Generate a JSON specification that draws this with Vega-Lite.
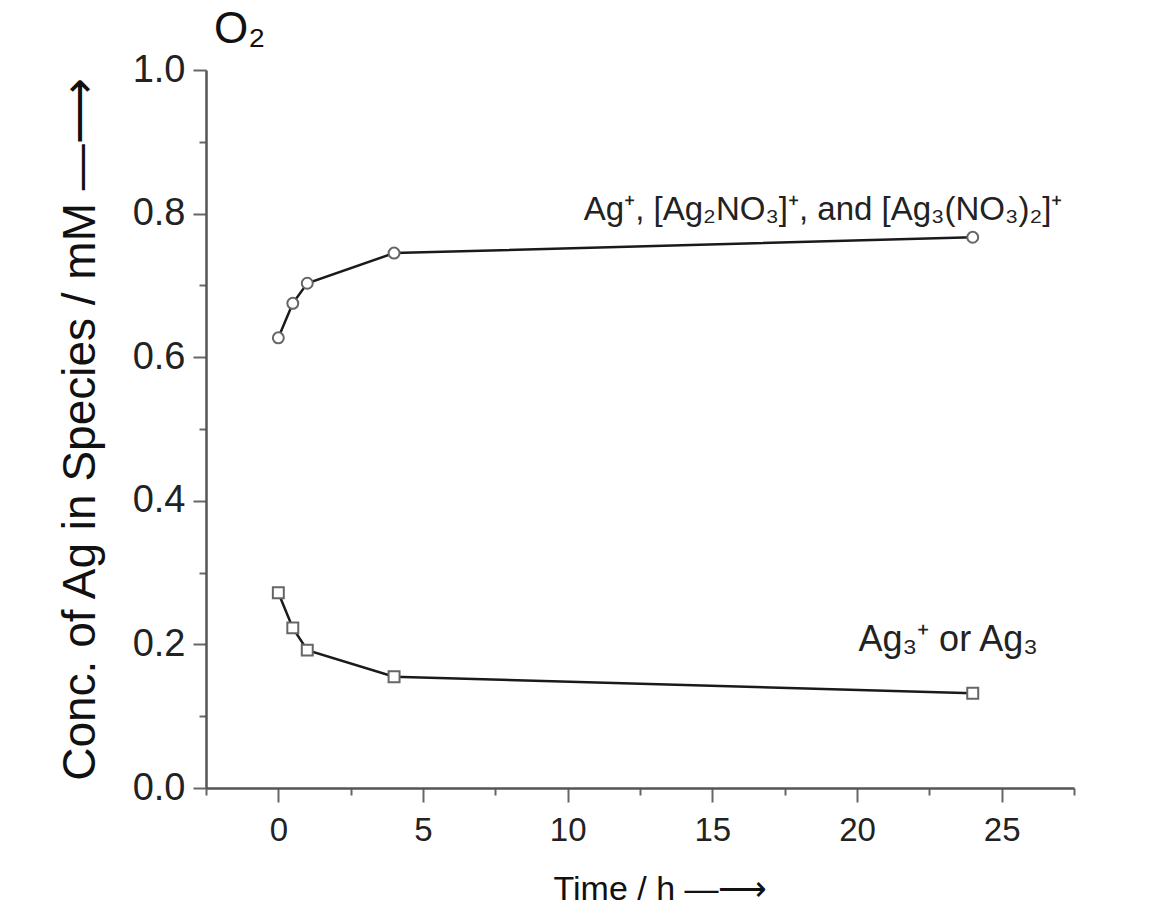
{
  "$schema": "https://vega.github.io/schema/vega-lite/v6.json",
  "autosize": "none",
  "width": 868,
  "height": 718,
  "padding": {"left": 206, "top": 70, "right": 81, "bottom": 124},
  "background": "white",
  "title": {"text": "O₂", "anchor": "start", "frame": "group", "orient": "top", "baseline": "alphabetic", "offset": 4, "dy": 40, "dx": 8, "fontSize": 44, "fontWeight": "normal", "font": "Liberation Sans", "color": "#111"},
  "config": {"view": {"stroke": null}, "font": "Liberation Sans"},
  "datasets": {
    "pts": [
      {"time": 0, "conc": 0.627, "series": "A"},
      {"time": 0.5, "conc": 0.675, "series": "A"},
      {"time": 1, "conc": 0.703, "series": "A"},
      {"time": 4, "conc": 0.745, "series": "A"},
      {"time": 24, "conc": 0.767, "series": "A"},
      {"time": 0, "conc": 0.272, "series": "B"},
      {"time": 0.5, "conc": 0.223, "series": "B"},
      {"time": 1, "conc": 0.192, "series": "B"},
      {"time": 4, "conc": 0.155, "series": "B"},
      {"time": 24, "conc": 0.132, "series": "B"}
    ],
    "labels": [
      {"time": 27.1, "conc": 0.805, "text": "Ag⁺, [Ag₂NO₃]⁺, and [Ag₃(NO₃)₂]⁺", "series": "A"},
      {"time": 26.25, "conc": 0.206, "text": "Ag₃⁺  or  Ag₃", "series": "B"}
    ]
  },
  "layer": [
    {
      "data": {"name": "pts"},
      "mark": {"type": "line", "color": "#1a1a1a", "strokeWidth": 2.5},
      "encoding": {
        "x": {"field": "time", "type": "quantitative", "scale": {"domain": [-2.5, 27.5], "nice": false, "zero": false},
          "axis": {"title": "Time / h —⟶", "values": [-2.5, 0, 2.5, 5, 7.5, 10, 12.5, 15, 17.5, 20, 22.5, 25, 27.5],
            "labelExpr": "datum.value % 5 == 0 ? datum.label : ''",
            "tickSize": {"condition": {"test": "datum.value % 5 == 0", "value": 14}, "value": 7},
            "domainColor": "#555", "domainWidth": 2.5, "tickColor": "#666", "tickWidth": 2,
            "labelFontSize": 33, "labelColor": "#222", "labelPadding": 12,
            "titleFontSize": 34, "titleFontWeight": "normal", "titleColor": "#111", "titlePadding": 25, "titleX": 454, "grid": false}},
        "y": {"field": "conc", "type": "quantitative", "scale": {"domain": [0, 1], "nice": false},
          "axis": {"title": "Conc. of Ag in Species / mM —⟶", "values": [0, 0.1, 0.2, 0.3, 0.4, 0.5, 0.6, 0.7, 0.8, 0.9, 1.0],
            "labelExpr": "abs(round(datum.value*10) % 2) == 0 ? format(datum.value, '.1f') : ''",
            "tickSize": {"condition": {"test": "abs(round(datum.value*10) % 2) == 0", "value": 13}, "value": 7},
            "domainColor": "#555", "domainWidth": 2.5, "tickColor": "#666", "tickWidth": 2,
            "labelFontSize": 38, "labelColor": "#222", "labelPadding": 8,
            "titleFontSize": 46, "titleFontWeight": "normal", "titleColor": "#111", "titlePadding": 28, "grid": false}},
        "detail": {"field": "series"}
      }
    },
    {
      "data": {"name": "pts"},
      "transform": [{"filter": "datum.series == 'A'"}],
      "mark": {"type": "point", "shape": "circle", "filled": true, "fill": "white", "stroke": "#666", "strokeWidth": 2, "size": 120, "opacity": 1},
      "encoding": {"x": {"field": "time", "type": "quantitative"}, "y": {"field": "conc", "type": "quantitative"}}
    },
    {
      "data": {"name": "pts"},
      "transform": [{"filter": "datum.series == 'B'"}],
      "mark": {"type": "point", "shape": "square", "filled": true, "fill": "white", "stroke": "#666", "strokeWidth": 2, "size": 120, "opacity": 1},
      "encoding": {"x": {"field": "time", "type": "quantitative"}, "y": {"field": "conc", "type": "quantitative"}}
    },
    {
      "data": {"name": "labels"},
      "transform": [{"filter": "datum.series == 'A'"}],
      "mark": {"type": "text", "align": "right", "baseline": "middle", "fontSize": 33, "font": "Liberation Sans", "color": "#222"},
      "encoding": {"x": {"field": "time", "type": "quantitative"}, "y": {"field": "conc", "type": "quantitative"}, "text": {"field": "text"}}
    },
    {
      "data": {"name": "labels"},
      "transform": [{"filter": "datum.series == 'B'"}],
      "mark": {"type": "text", "align": "right", "baseline": "middle", "fontSize": 36, "font": "Liberation Sans", "color": "#222"},
      "encoding": {"x": {"field": "time", "type": "quantitative"}, "y": {"field": "conc", "type": "quantitative"}, "text": {"field": "text"}}
    }
  ]
}
